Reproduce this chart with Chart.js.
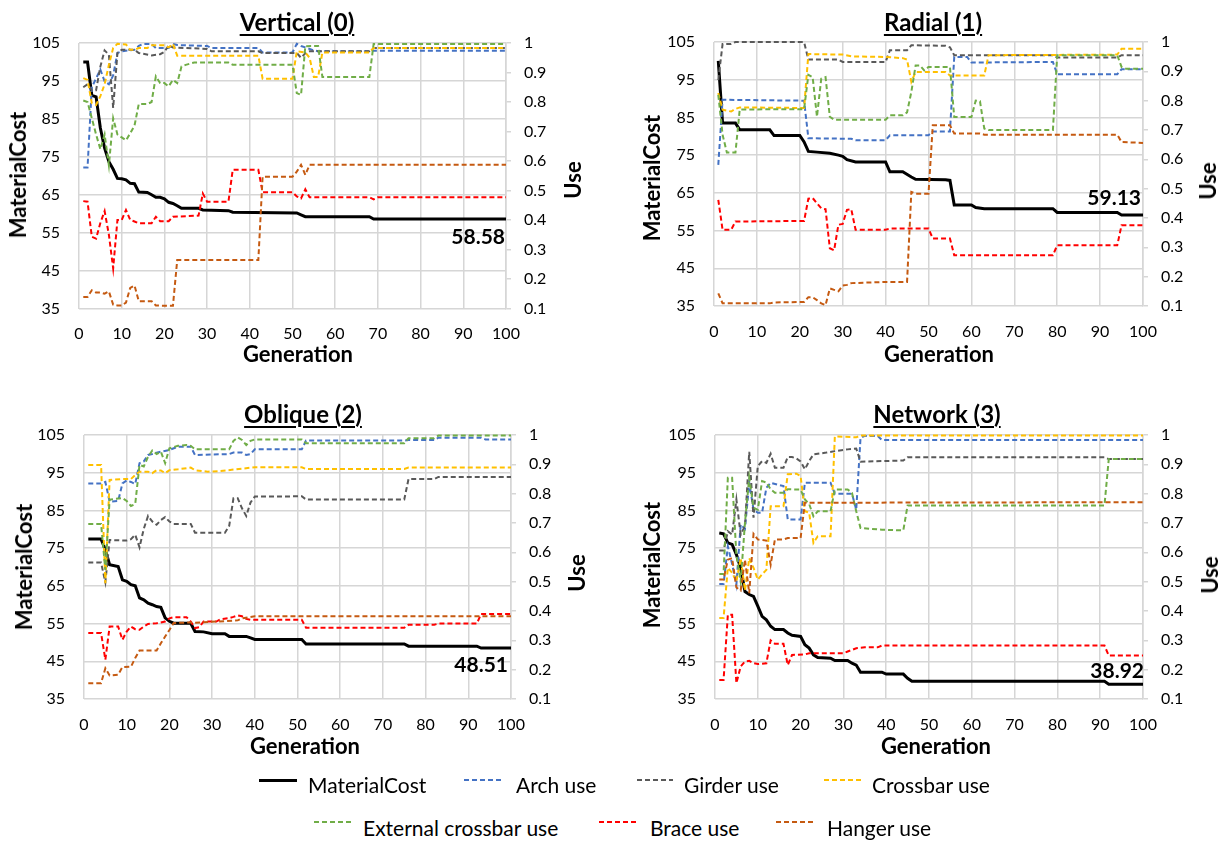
<!DOCTYPE html>
<html><head><meta charset="utf-8">
<script src="https://cdn.jsdelivr.net/npm/chart.js@4.4.1/dist/chart.umd.min.js"></script>
<style>
body{margin:0;background:#fff;width:1224px;height:844px;position:relative;overflow:hidden;font-family:Lato,'Liberation Sans',sans-serif;color:#000}
canvas{position:absolute}
.t{position:absolute;font-weight:bold;font-size:22px;white-space:nowrap;transform:translate(-50%,-50%);line-height:1}
.title{font-size:24px;text-decoration:underline;text-underline-offset:3px;text-decoration-thickness:2px}
.rot{transform:translate(-50%,-50%) rotate(-90deg)}
.lg{position:absolute;font-size:21px;white-space:nowrap;transform:translateY(-50%);line-height:1}
.ln{position:absolute;height:2px}
</style></head><body>
<canvas id="c0" width="606" height="380" style="left:0;top:0"></canvas>
<canvas id="c1" width="612" height="380" style="left:612px;top:0"></canvas>
<canvas id="c2" width="606" height="380" style="left:0;top:390px"></canvas>
<canvas id="c3" width="612" height="380" style="left:612px;top:390px"></canvas>
<div id="texts"></div>
<script>
// ---------- DATA ----------
const panelTitles = ['Vertical (0)', 'Radial (1)', 'Oblique (2)', 'Network (3)'];
const seriesNames = ['MaterialCost','Arch use','Girder use','Crossbar use','External crossbar use','Brace use','Hanger use'];
const genTicks = [0,10,20,30,40,50,60,70,80,90,100];
const costTicks = [35,45,55,65,75,85,95,105];
const useTicks = [0.1,0.2,0.3,0.4,0.5,0.6,0.7,0.8,0.9,1];
const xTitle = 'Generation', yTitle = 'MaterialCost', y1Title = 'Use';

// Vertical (0)  [generation, value]
const v_cost = [[1,100],[2,100],[3,91.2],[4,90.8],[5,82.6],[6,77.3],[7,73.7],[8,71.7],[9,69.3],[10,69.2],[11,68.9],[12,68],[13,67.9],[14,65.7],[16,65.6],[17,65],[18,64.3],[19,64.3],[20,63.9],[21,63],[22,62.7],[23,62.1],[24,61.4],[28,61.4],[29,61],[35,60.8],[36,60.4],[51,60.2],[52,59.7],[53,59.2],[68,59.2],[69,58.58],[100,58.58]];
const v_arch = [[1,0.578],[2,0.578],[3,0.85],[4,0.88],[5,0.91],[6,0.87],[7,0.86],[8,0.89],[9,0.966],[10,0.972],[13,0.977],[14,0.99],[15,0.997],[17,0.997],[18,0.983],[21,0.983],[22,0.997],[23,0.993],[30,0.99],[31,0.983],[42,0.983],[43,0.968],[50,0.968],[51,0.997],[52,0.99],[53,0.985],[55,0.975],[56,0.972],[68,0.972],[69,0.974],[100,0.974]];
const v_girder = [[1,0.85],[2,0.86],[3,0.84],[4,0.84],[5,0.92],[6,0.975],[7,0.96],[8,0.78],[9,0.966],[10,0.977],[13,0.977],[14,0.966],[17,0.958],[19,0.962],[20,0.97],[21,0.992],[22,0.985],[30,0.98],[31,0.972],[42,0.972],[43,0.966],[51,0.966],[52,0.95],[53,0.965],[54,0.972],[68,0.972],[69,0.983],[100,0.983]];
const v_cross = [[1,0.881],[2,0.875],[3,0.796],[4,0.79],[5,0.82],[6,0.86],[7,0.926],[8,0.983],[9,0.997],[11,0.995],[12,0.977],[13,0.977],[14,0.983],[16,0.983],[17,0.992],[20,0.992],[21,0.985],[22,0.997],[23,0.957],[42,0.957],[43,0.879],[50,0.879],[51,0.972],[53,0.968],[54,0.95],[55,0.885],[56,0.885],[57,0.968],[68,0.968],[69,0.983],[100,0.983]];
const v_ext = [[1,0.805],[2,0.8],[3,0.745],[4,0.69],[5,0.64],[6,0.69],[7,0.585],[8,0.745],[9,0.69],[10,0.68],[11,0.67],[12,0.694],[13,0.72],[14,0.793],[16,0.793],[17,0.8],[18,0.887],[19,0.864],[20,0.864],[21,0.853],[22,0.875],[23,0.864],[24,0.92],[25,0.926],[27,0.934],[35,0.934],[36,0.926],[50,0.926],[51,0.83],[52,0.824],[53,0.989],[56,0.99],[57,0.885],[68,0.885],[69,0.997],[100,0.997]];
const v_brace = [[1,0.464],[2,0.462],[3,0.343],[4,0.337],[5,0.39],[6,0.43],[7,0.35],[8,0.236],[9,0.4],[10,0.4],[11,0.434],[12,0.4],[13,0.395],[14,0.389],[17,0.389],[18,0.411],[19,0.396],[21,0.396],[22,0.411],[28,0.415],[29,0.49],[30,0.462],[35,0.462],[36,0.57],[42,0.57],[43,0.494],[50,0.494],[51,0.48],[52,0.473],[53,0.504],[54,0.477],[68,0.477],[69,0.47],[70,0.477],[100,0.477]];
const v_hanger = [[1,0.139],[2,0.139],[3,0.162],[4,0.154],[5,0.154],[6,0.15],[7,0.158],[8,0.113],[9,0.11],[10,0.11],[11,0.12],[12,0.17],[13,0.178],[14,0.125],[17,0.125],[18,0.11],[22,0.109],[23,0.264],[42,0.264],[43,0.547],[50,0.547],[51,0.564],[52,0.587],[53,0.553],[54,0.587],[100,0.587]];

// Radial (1)
const r_cost = [[1,100],[2,83.5],[5,83.5],[6,81.7],[13,81.7],[14,80.2],[20,80.2],[21,78.5],[22,76],[24,75.8],[27,75.5],[29,75],[30,74.7],[31,73.8],[33,73.2],[40,73.2],[41,70.6],[44,70.6],[46,69.2],[47,68.6],[54,68.5],[55,68.3],[56,61.8],[60,61.8],[61,61.1],[63,60.8],[79,60.8],[80,59.8],[94,59.8],[95,59.13],[100,59.13]];
const r_arch = [[1,0.581],[2,0.803],[21,0.8],[22,0.672],[32,0.67],[33,0.665],[40,0.665],[41,0.682],[50,0.682],[51,0.695],[55,0.695],[56,0.949],[59,0.949],[60,0.93],[79,0.932],[80,0.89],[94,0.89],[95,0.907],[100,0.907]];
const r_girder = [[1,0.87],[2,0.993],[4,0.993],[5,1.0],[21,1.0],[22,0.94],[29,0.94],[30,0.932],[40,0.932],[41,0.972],[45,0.972],[46,0.989],[54,0.987],[55,0.982],[56,0.955],[79,0.955],[80,0.947],[94,0.947],[95,0.955],[100,0.955]];
const r_cross = [[1,0.826],[2,0.769],[4,0.763],[5,0.772],[6,0.777],[21,0.775],[22,0.959],[30,0.957],[32,0.951],[40,0.949],[44,0.945],[45,0.94],[46,0.864],[47,0.898],[54,0.898],[55,0.886],[63,0.886],[64,0.955],[94,0.957],[95,0.977],[100,0.977]];
const r_ext = [[1,0.82],[2,0.684],[3,0.623],[5,0.623],[6,0.77],[21,0.771],[22,0.888],[23,0.88],[24,0.745],[25,0.875],[26,0.88],[27,0.745],[28,0.735],[40,0.735],[41,0.75],[44,0.75],[45,0.76],[46,0.83],[47,0.92],[48,0.92],[49,0.903],[50,0.915],[55,0.915],[56,0.744],[60,0.744],[61,0.8],[62,0.798],[63,0.705],[64,0.7],[79,0.7],[80,0.955],[94,0.955],[95,0.915],[96,0.909],[100,0.909]];
const r_brace = [[1,0.462],[2,0.36],[4,0.36],[5,0.388],[21,0.39],[22,0.466],[23,0.468],[24,0.45],[25,0.433],[26,0.43],[27,0.297],[28,0.29],[29,0.377],[30,0.38],[31,0.428],[32,0.43],[33,0.36],[40,0.36],[41,0.364],[50,0.364],[51,0.33],[55,0.33],[56,0.273],[79,0.273],[80,0.307],[94,0.307],[95,0.375],[100,0.375]];
const r_hanger = [[1,0.143],[2,0.109],[13,0.109],[14,0.112],[21,0.114],[22,0.13],[23,0.13],[24,0.12],[25,0.109],[26,0.103],[27,0.16],[28,0.155],[29,0.15],[30,0.17],[31,0.172],[32,0.178],[40,0.182],[45,0.182],[46,0.489],[47,0.483],[50,0.483],[51,0.716],[55,0.716],[56,0.688],[62,0.688],[63,0.684],[94,0.684],[95,0.659],[100,0.656]];

// Oblique (2)
const o_cost = [[1,77.4],[4,77.4],[5,74.6],[6,70.6],[8,70.1],[9,66.6],[10,66.2],[11,65.3],[12,65],[13,61.8],[14,61.3],[15,60.4],[16,60],[17,59.5],[18,59.3],[19,56.5],[20,55.6],[21,55.1],[25,55.1],[26,52.9],[28,52.8],[30,52.3],[33,52.3],[34,51.6],[38,51.6],[39,51.2],[40,50.8],[51,50.8],[52,49.6],[75,49.6],[76,49],[92,49],[93,48.51],[100,48.51]];
const o_arch = [[1,0.835],[4,0.835],[5,0.84],[6,0.773],[8,0.775],[9,0.835],[10,0.845],[11,0.84],[12,0.833],[13,0.904],[14,0.91],[15,0.932],[16,0.935],[17,0.94],[20,0.949],[22,0.96],[25,0.96],[26,0.932],[34,0.935],[35,0.94],[37,0.94],[38,0.932],[39,0.935],[40,0.951],[51,0.951],[52,0.981],[75,0.981],[76,0.983],[82,0.983],[83,0.991],[93,0.991],[94,0.985],[100,0.985]];
const o_girder = [[1,0.565],[4,0.565],[5,0.498],[6,0.642],[10,0.64],[11,0.645],[12,0.66],[13,0.617],[14,0.68],[15,0.724],[16,0.705],[17,0.694],[18,0.71],[19,0.72],[20,0.705],[21,0.697],[25,0.697],[26,0.667],[33,0.667],[34,0.69],[35,0.784],[36,0.784],[37,0.75],[38,0.724],[39,0.77],[40,0.79],[51,0.791],[52,0.78],[75,0.78],[76,0.85],[82,0.85],[83,0.857],[100,0.857]];
const o_cross = [[1,0.898],[4,0.898],[5,0.495],[6,0.847],[9,0.85],[11,0.85],[12,0.864],[13,0.875],[15,0.875],[16,0.87],[17,0.88],[18,0.879],[19,0.87],[20,0.88],[22,0.883],[25,0.889],[26,0.88],[29,0.875],[32,0.877],[35,0.882],[40,0.89],[51,0.89],[52,0.884],[75,0.884],[76,0.889],[100,0.889]];
const o_ext = [[1,0.697],[4,0.697],[5,0.54],[6,0.78],[9,0.785],[10,0.775],[11,0.758],[12,0.765],[13,0.898],[14,0.893],[15,0.926],[16,0.947],[17,0.935],[18,0.943],[19,0.904],[20,0.955],[22,0.963],[24,0.966],[25,0.963],[26,0.951],[34,0.951],[35,0.98],[36,0.992],[37,0.983],[38,0.966],[39,0.98],[40,0.985],[51,0.985],[52,0.972],[75,0.972],[76,0.989],[82,0.989],[83,0.998],[100,0.998]];
const o_brace = [[1,0.325],[4,0.325],[5,0.234],[6,0.347],[8,0.347],[9,0.302],[10,0.33],[11,0.347],[12,0.338],[13,0.336],[14,0.347],[15,0.356],[17,0.358],[19,0.364],[20,0.375],[21,0.379],[24,0.379],[25,0.364],[26,0.342],[27,0.345],[28,0.364],[31,0.364],[32,0.372],[34,0.376],[35,0.38],[36,0.385],[37,0.382],[38,0.373],[39,0.37],[51,0.37],[52,0.343],[75,0.343],[76,0.353],[82,0.353],[83,0.357],[92,0.357],[93,0.39],[100,0.39]];
const o_hanger = [[1,0.154],[4,0.154],[5,0.205],[6,0.18],[8,0.183],[9,0.209],[11,0.21],[12,0.24],[13,0.265],[17,0.265],[18,0.29],[19,0.313],[20,0.335],[21,0.359],[25,0.361],[26,0.36],[36,0.368],[37,0.375],[40,0.382],[100,0.382]];

// Network (3)
const n_cost = [[1,79],[2,78.8],[3,76.4],[4,76],[5,73.3],[6,69.7],[7,63.5],[8,62.7],[9,62.2],[10,59.6],[11,56.9],[12,56],[13,54.3],[14,53.4],[16,53.4],[17,52.5],[18,51.9],[20,51.6],[21,49.4],[22,48.5],[23,46.7],[24,46],[27,45.8],[28,45.2],[31,45.2],[32,44.5],[33,44],[34,42.1],[39,42.1],[40,41.6],[44,41.6],[45,40.5],[46,39.7],[91,39.7],[92,38.92],[100,38.92]];
const n_arch = [[1,0.492],[2,0.492],[3,0.62],[4,0.56],[5,0.49],[6,0.695],[7,0.68],[8,0.837],[9,0.746],[10,0.735],[11,0.735],[12,0.82],[13,0.837],[16,0.826],[17,0.712],[20,0.712],[21,0.837],[27,0.837],[28,0.8],[32,0.8],[33,0.745],[34,0.99],[35,0.997],[38,0.997],[39,0.983],[100,0.983]];
const n_girder = [[1,0.606],[2,0.606],[3,0.672],[4,0.66],[5,0.78],[6,0.66],[7,0.69],[8,0.943],[9,0.718],[10,0.894],[11,0.911],[12,0.905],[13,0.936],[14,0.888],[16,0.888],[17,0.925],[18,0.925],[19,0.92],[20,0.91],[21,0.883],[22,0.911],[23,0.934],[26,0.94],[28,0.945],[31,0.951],[33,0.954],[34,0.909],[39,0.911],[44,0.913],[45,0.924],[91,0.924],[92,0.918],[100,0.918]];
const n_cross = [[1,0.376],[2,0.376],[3,0.547],[4,0.53],[5,0.5],[6,0.58],[7,0.47],[8,0.58],[9,0.547],[10,0.507],[11,0.525],[12,0.54],[13,0.757],[16,0.757],[17,0.866],[19,0.868],[20,0.86],[21,0.74],[22,0.735],[23,0.632],[24,0.655],[27,0.655],[28,0.995],[32,0.993],[33,0.992],[34,0.998],[100,0.998]];
const n_ext = [[1,0.526],[2,0.526],[3,0.854],[4,0.854],[5,0.59],[6,0.5],[7,0.7],[8,0.854],[9,0.752],[10,0.745],[11,0.843],[12,0.838],[13,0.815],[14,0.803],[16,0.803],[17,0.815],[20,0.814],[21,0.78],[22,0.765],[23,0.723],[24,0.74],[27,0.74],[28,0.814],[31,0.814],[32,0.803],[33,0.74],[34,0.683],[39,0.677],[44,0.675],[45,0.76],[91,0.76],[92,0.918],[100,0.918]];
const n_brace = [[1,0.165],[2,0.165],[3,0.387],[4,0.387],[5,0.154],[6,0.211],[7,0.228],[8,0.23],[9,0.222],[10,0.219],[12,0.222],[13,0.3],[14,0.288],[16,0.288],[17,0.216],[18,0.25],[21,0.252],[22,0.256],[30,0.256],[31,0.262],[33,0.273],[35,0.276],[38,0.276],[39,0.282],[91,0.282],[92,0.248],[100,0.248]];
const n_hanger = [[1,0.507],[2,0.507],[3,0.575],[4,0.58],[5,0.48],[6,0.47],[7,0.575],[8,0.461],[9,0.663],[10,0.644],[12,0.64],[13,0.558],[14,0.644],[16,0.644],[17,0.649],[20,0.649],[21,0.769],[100,0.771]];

// ---------- STYLE ----------
const colors = ['#000000','#4472C4','#595959','#FFC000','#70AD47','#FF0000','#C55A11'];
const panels = [
  {id:'c0', series:[v_cost,v_arch,v_girder,v_cross,v_ext,v_brace,v_hanger], w:606,h:380, pl:79, pr:506, pt:43, pb:308.5, lab:{dx:-1,dy:18},
   title:[297,22], yt:[18,175], ut:[573,180], xt:[298,354]},
  {id:'c1', series:[r_cost,r_arch,r_girder,r_cross,r_ext,r_brace,r_hanger], w:612,h:380, pl:102, pr:531, pt:42, pb:306, lab:{dx:-2,dy:-17},
   title:[933,22], yt:[652,178], ut:[1208,181], xt:[939,354]},
  {id:'c2', series:[o_cost,o_arch,o_girder,o_cross,o_ext,o_brace,o_hanger], w:606,h:380, pl:84, pr:511, pt:45, pb:309, lab:{dx:-3,dy:17},
   title:[303,414], yt:[24,567], ut:[577,573], xt:[305,746]},
  {id:'c3', series:[n_cost,n_arch,n_girder,n_cross,n_ext,n_brace,n_hanger], w:612,h:380, pl:103, pr:531, pt:45, pb:309, lab:{dx:1,dy:-13},
   title:[937,414], yt:[652,565], ut:[1210,575], xt:[936,746]}
];

const endLabelPlugin = {
  id:'endLabel',
  afterDatasetsDraw(chart, args, opts){
    const d = chart.data.datasets[0].data;
    const last = d[d.length-1];
    const x = chart.scales.x.getPixelForValue(last.x) + opts.dx;
    const y = chart.scales.y.getPixelForValue(last.y) + opts.dy;
    const ctx = chart.ctx;
    ctx.save();
    ctx.font = 'bold 21px Lato, "Liberation Sans", sans-serif';
    ctx.fillStyle = '#000'; ctx.textAlign = 'right'; ctx.textBaseline = 'middle';
    ctx.fillText(last.y.toFixed(2), x, y);
    ctx.restore();
  }
};

const tickFont = {family:'Lato, "Liberation Sans", sans-serif', size:16};
const RW = 60, XH = 45;
const toPts = arr => arr.map(p => ({x:p[0], y:p[1]}));

panels.forEach(p => {
  const datasets = p.series.map((s, i) => ({
    label: seriesNames[i],
    data: toPts(s),
    yAxisID: i === 0 ? 'y' : 'y1',
    borderColor: colors[i],
    borderWidth: i === 0 ? 3 : 2,
    borderDash: i === 0 ? [] : [5,3],
    pointRadius: 0,
    tension: 0,
    fill: false,
    order: i === 0 ? 10 : 7 - i,
    clip: 4
  }));
  new Chart(document.getElementById(p.id), {
    type:'line',
    data:{datasets},
    plugins:[endLabelPlugin],
    options:{
      responsive:false, animation:false, devicePixelRatio:1,
      layout:{padding:{left:0, top:p.pt, right:p.w - p.pr - RW, bottom:p.h - p.pb - XH}},
      plugins:{legend:{display:false}, tooltip:{enabled:false}, endLabel:p.lab},
      scales:{
        x:{type:'linear', min:0, max:100,
           afterFit(s){ s.height = XH; },
           afterBuildTicks(s){ s.ticks = genTicks.map(v => ({value:v})); },
           grid:{color:'#d6d6d6', lineWidth:1.5, drawTicks:false},
           border:{display:false},
           ticks:{padding:16, font:tickFont, color:'#000', maxRotation:0, autoSkip:false}},
        y:{type:'linear', position:'left', min:35, max:105,
           afterFit(s){ s.width = p.pl; },
           afterBuildTicks(s){ s.ticks = costTicks.map(v => ({value:v})); },
           grid:{color:'#d6d6d6', lineWidth:1.5, drawTicks:false},
           border:{display:false},
           ticks:{padding:19, font:tickFont, color:'#000'}},
        y1:{type:'linear', position:'right', min:0.1, max:1,
           afterFit(s){ s.width = RW; },
           afterBuildTicks(s){ s.ticks = useTicks.map(v => ({value:v})); },
           grid:{drawOnChartArea:false, color:'#d6d6d6', lineWidth:1.5, tickLength:5},
           border:{display:true, color:'#d6d6d6', width:1.5},
           ticks:{padding:13, font:tickFont, color:'#000', callback:v => String(+Number(v).toFixed(1))}}
      }
    }
  });
});

// ---------- TEXT (titles, axis titles, legend) ----------
const T = document.getElementById('texts');
function addText(txt, cls, x, y){
  const d = document.createElement('div');
  d.className = cls; d.textContent = txt;
  d.style.left = x + 'px'; d.style.top = y + 'px';
  T.appendChild(d);
}
panels.forEach((p, i) => {
  addText(panelTitles[i], 't title', p.title[0], p.title[1]);
  addText(yTitle, 't rot', p.yt[0], p.yt[1]);
  addText(y1Title, 't rot', p.ut[0], p.ut[1]);
  addText(xTitle, 't', p.xt[0], p.xt[1]);
});
const legendPos = [
  {lx:259, lw:38, tx:308, ly:780, ty:784},
  {lx:464, lw:39, tx:516, ly:780, ty:784},
  {lx:637, lw:36, tx:684, ly:780, ty:784},
  {lx:824, lw:37, tx:872, ly:780, ty:784},
  {lx:314, lw:37, tx:363, ly:822, ty:827},
  {lx:599, lw:40, tx:650, ly:822, ty:827},
  {lx:776, lw:39, tx:827, ly:822, ty:827}
];
legendPos.forEach((L, i) => {
  const ln = document.createElement('div');
  ln.className = 'ln';
  ln.style.left = L.lx + 'px'; ln.style.width = L.lw + 'px';
  if (i === 0) { ln.style.top = (L.ly - 1.5) + 'px'; ln.style.height = '3px'; ln.style.background = colors[0]; }
  else { ln.style.top = (L.ly - 1) + 'px'; ln.style.background = `repeating-linear-gradient(to right, ${colors[i]} 0 5px, transparent 5px 8px)`; }
  T.appendChild(ln);
  const tx = document.createElement('div');
  tx.className = 'lg'; tx.textContent = seriesNames[i];
  tx.style.left = L.tx + 'px'; tx.style.top = L.ty + 'px';
  T.appendChild(tx);
});
</script>
</body></html>
